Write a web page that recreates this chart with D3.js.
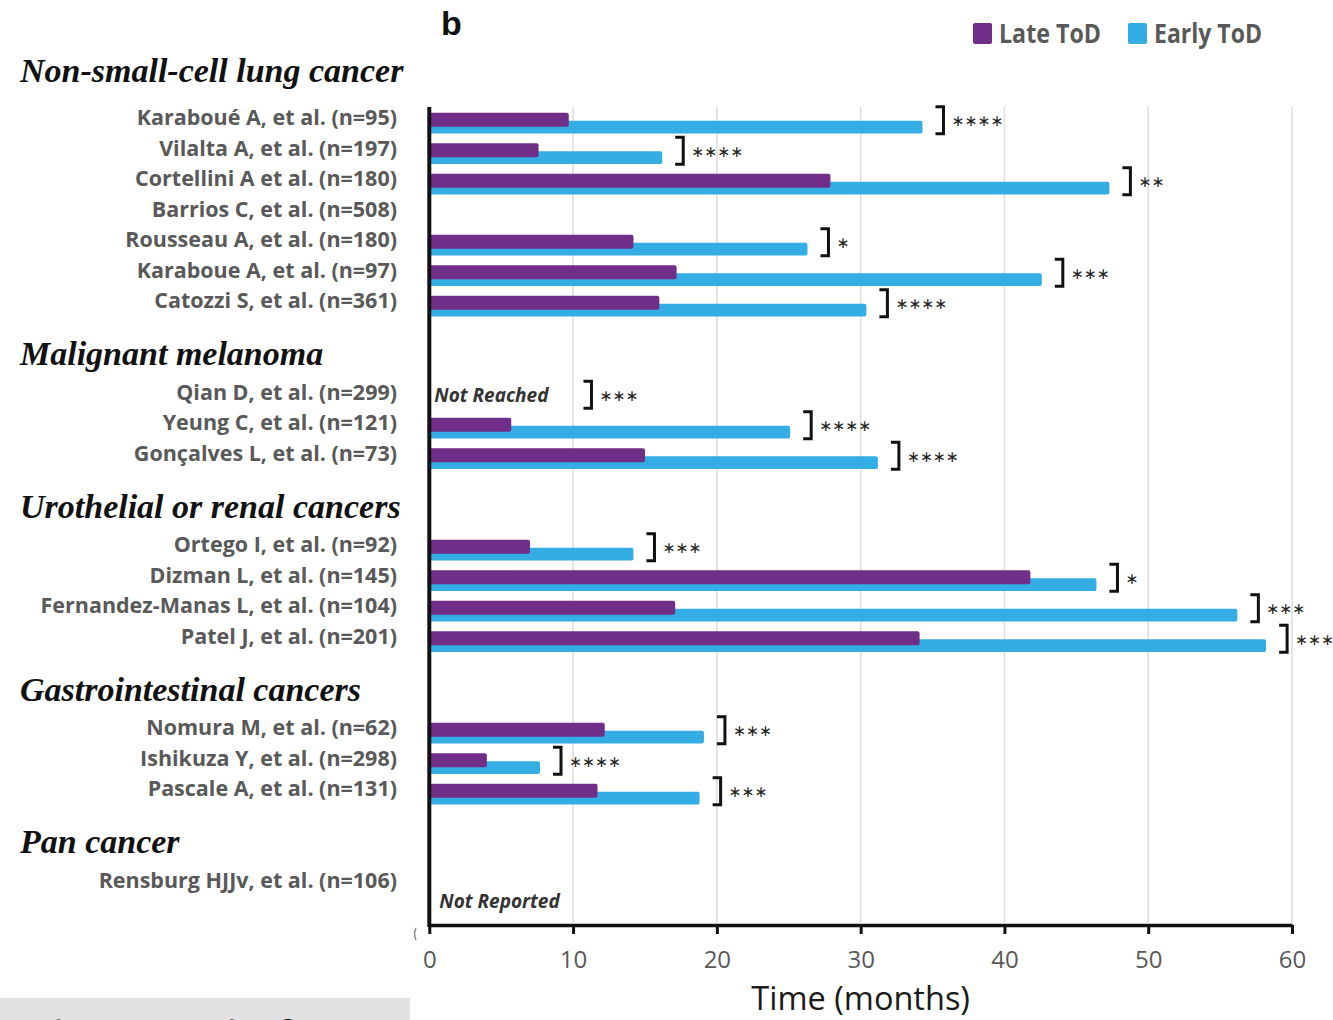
<!DOCTYPE html>
<html>
<head>
<meta charset="utf-8">
<script src="https://cdn.jsdelivr.net/npm/d3@7"></script>
<style>
  html, body { margin: 0; padding: 0; background: #fff; }
  svg { display: block; }
</style>
</head>
<body>
<svg id="chart" width="1333" height="1020"></svg>
<script>
// ---------------- DATA ----------------
const groups = [
  "Non-small-cell lung cancer",
  "Malignant melanoma",
  "Urothelial or renal cancers",
  "Gastrointestinal cancers",
  "Pan cancer"
];
const studies = [
  "Karaboué A, et al. (n=95)",
  "Vilalta A, et al. (n=197)",
  "Cortellini A et al. (n=180)",
  "Barrios C, et al. (n=508)",
  "Rousseau A, et al. (n=180)",
  "Karaboue A, et al. (n=97)",
  "Catozzi S, et al. (n=361)",
  "Qian D, et al. (n=299)",
  "Yeung C, et al. (n=121)",
  "Gonçalves L, et al. (n=73)",
  "Ortego I, et al. (n=92)",
  "Dizman L, et al. (n=145)",
  "Fernandez-Manas L, et al. (n=104)",
  "Patel J, et al. (n=201)",
  "Nomura M, et al. (n=62)",
  "Ishikuza Y, et al. (n=298)",
  "Pascale A, et al. (n=131)",
  "Rensburg HJJv, et al. (n=106)"
];
const studyGroup = [0,0,0,0,0,0,0, 1,1,1, 2,2,2,2, 3,3,3, 4];
const lateToD  = [9.7, 7.6, 27.9, null, 14.2, 17.2, 16.0, null, 5.7, 15.0, 7.0, 41.8, 17.1, 34.1, 12.2, 4.0, 11.7, null];
const earlyToD = [34.3, 16.2, 47.3, null, 26.3, 42.6, 30.4, null, 25.1, 31.2, 14.2, 46.4, 56.2, 58.2, 19.1, 7.7, 18.8, null];
const significance = ["****","****","**","","*","***","****","***","****","****","***","*","***","***","***","****","***",""];
const notes = ["","","","","","","","Not Reached","","","","","","","","","","Not Reported"];
const xTicks = [0, 10, 20, 30, 40, 50, 60];
const seriesNames = ["Late ToD", "Early ToD"];
const xTitle = "Time (months)";
const panelLetter = "b";
const sourceText = "British Journal of Cancer";

// ---------------- STYLE ----------------
const PURPLE = "#702E89";
const BLUE = "#33ADE3";
const LABEL = "#595959";

const svg = d3.select("#chart");
const x = d3.scaleLinear().domain([0, 60]).range([429.3, 1292]);
const slotOf = i => i + 2 * studyGroup[i];
const y = d3.scaleLinear().domain([0, 25]).range([112.7, 875.2]);
const plotTop = 107, plotBottom = 925;

// grid
svg.append("g").selectAll("line").data(xTicks.filter(t => t > 0)).join("line")
  .attr("x1", d => x(d)).attr("x2", d => x(d))
  .attr("y1", plotTop).attr("y2", plotBottom - 2)
  .attr("stroke", "#dcdcdc").attr("stroke-width", 1.5);

// bars
const rows = studies.map((s, i) => ({ s, i, slot: slotOf(i), late: lateToD[i], early: earlyToD[i], sig: significance[i], note: notes[i] }));
const barG = svg.append("g");
barG.selectAll("rect.early").data(rows.filter(r => r.early != null)).join("rect")
  .attr("class", "early")
  .attr("x", x(0)).attr("y", r => y(r.slot) + 8)
  .attr("width", r => x(r.early) - x(0)).attr("height", 12.7)
  .attr("rx", 2).attr("fill", BLUE);
barG.selectAll("rect.late").data(rows.filter(r => r.late != null)).join("rect")
  .attr("class", "late")
  .attr("x", x(0)).attr("y", r => y(r.slot))
  .attr("width", r => x(r.late) - x(0)).attr("height", 14)
  .attr("rx", 2).attr("fill", PURPLE);

// notes
const noteG = svg.append("g");
rows.filter(r => r.note).forEach(r => {
  const reported = r.note === "Not Reported";
  const t = noteG.append("text")
    .attr("x", x(0) + (reported ? 10 : 5))
    .attr("y", reported ? plotBottom - 17 : y(r.slot) + 15)
    .attr("font-family", "Open Sans").attr("font-style", "italic").attr("font-weight", 700)
    .attr("font-size", 19).attr("fill", "#333").text(r.note);
  r.noteEnd = x(0) + (reported ? 10 : 5) + t.node().getComputedTextLength();
});

// brackets + stars
const sigG = svg.append("g");
rows.filter(r => r.sig).forEach(r => {
  const anchor = (r.early != null || r.late != null)
    ? x(Math.max(r.early || 0, r.late || 0))
    : r.noteEnd + 22;
  const bx = anchor + 13, vx = bx + 8;
  const top = y(r.slot) - 6, bot = y(r.slot) + 21;
  sigG.append("path")
    .attr("d", `M${bx},${top} H${vx} V${bot} H${bx}`)
    .attr("fill", "none").attr("stroke", "#111").attr("stroke-width", 3);
  sigG.append("text")
    .attr("x", vx + 8).attr("y", (top + bot) / 2 + 6)
    .attr("font-family", "DejaVu Sans").attr("font-size", 15.5)
    .attr("fill", "#222")
    .text(r.sig.replace(/\*/g, "\u2217"));
});

// vertical axis line
svg.append("line")
  .attr("x1", x(0)).attr("x2", x(0)).attr("y1", plotTop).attr("y2", plotBottom + 2)
  .attr("stroke", "#111").attr("stroke-width", 4);

// x axis
const xAxis = d3.axisBottom(x).tickValues(xTicks).tickSize(9).tickSizeOuter(0).tickPadding(17);
const ax = svg.append("g").attr("transform", `translate(0,${plotBottom})`).call(xAxis);
ax.select(".domain").attr("stroke", "#111").attr("stroke-width", 3.5);
ax.selectAll(".tick line").attr("stroke", "#111").attr("stroke-width", 3);
ax.selectAll(".tick text").attr("font-family", "Open Sans").attr("font-size", 24).attr("fill", LABEL);

svg.append("text").attr("x", x(30)).attr("y", 1010).attr("text-anchor", "middle")
  .attr("font-family", "Open Sans").attr("font-size", 32.5).attr("fill", "#1a1a1a").text(xTitle);

// study labels
svg.append("g").selectAll("text").data(rows).join("text")
  .attr("x", 397).attr("y", r => y(r.slot) + 12.3)
  .attr("text-anchor", "end")
  .attr("font-family", "Open Sans").attr("font-weight", 700).attr("font-size", 21.5)
  .attr("fill", LABEL).text(r => r.s);

// group headings
svg.append("g").selectAll("text").data(groups).join("text")
  .attr("x", 20)
  .attr("y", (g, gi) => {
    const first = studyGroup.indexOf(gi);
    return y(slotOf(first)) - (gi === 0 ? 31 : 22);
  })
  .attr("font-family", "Liberation Serif").attr("font-style", "italic").attr("font-weight", 700)
  .attr("font-size", 34).attr("fill", "#111").text(g => g);

// panel letter
svg.append("text").attr("x", 441).attr("y", 35)
  .attr("font-family", "Liberation Sans").attr("font-weight", 700).attr("font-size", 34)
  .attr("fill", "#111").text(panelLetter);

// legend
const legend = svg.append("g");
const legX = [973, 1128], legLen = [102, 108], legCol = [PURPLE, BLUE];
seriesNames.forEach((n, i) => {
  legend.append("rect").attr("x", legX[i]).attr("y", 23).attr("width", 19).attr("height", 21)
    .attr("rx", 2).attr("fill", legCol[i]);
  legend.append("text").attr("x", legX[i] + 26).attr("y", 43)
    .attr("font-family", "Open Sans").attr("font-weight", 700).attr("font-size", 26)
    .attr("textLength", legLen[i]).attr("lengthAdjust", "spacingAndGlyphs")
    .attr("fill", LABEL).text(n);
});

// small artifact mark near axis origin
svg.append("path").attr("d", "M416,928 Q413,934 416,940").attr("fill", "none")
  .attr("stroke", "#888").attr("stroke-width", 1.5);

// source banner (cut off at page bottom, as in the reference)
svg.append("rect").attr("x", 0).attr("y", 998).attr("width", 410).attr("height", 22).attr("fill", "#e2e2e2");
const src = svg.append("text").attr("y", 1053)
  .attr("font-family", "Open Sans").attr("font-size", 44).attr("fill", "#111").text(sourceText);
const tmp = svg.append("text").attr("font-family", "Open Sans").attr("font-size", 44).text("British Journal of ");
const pre = tmp.node().getComputedTextLength();
tmp.remove();
src.attr("x", 290 - pre);
</script>
</body>
</html>
